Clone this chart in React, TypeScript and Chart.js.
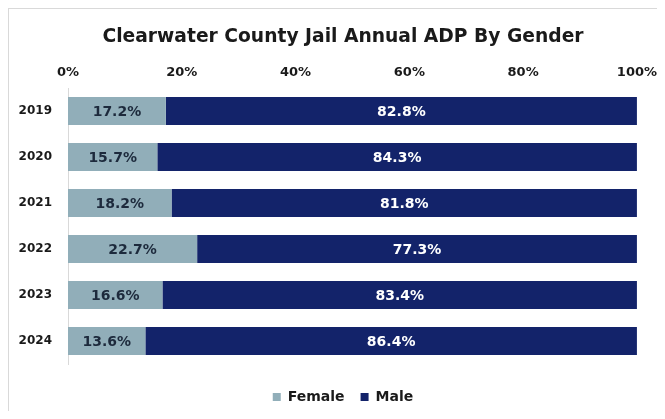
import React, { useEffect, useRef } from "react";
import { Chart, registerables } from "chart.js";

Chart.register(...registerables);

const years = ["2019", "2020", "2021", "2022", "2023", "2024"];
const femaleValues = [17.2, 15.7, 18.2, 22.7, 16.6, 13.6];
const maleValues = [82.8, 84.3, 81.8, 77.3, 83.4, 86.4];
const xTicks = [0, 20, 40, 60, 80, 100];

const FONT = "'DejaVu Sans', sans-serif";
const FEMALE_COLOR = "#91AEB9";
const MALE_COLOR = "#13236A";

const barLabels = {
  id: "barLabels",
  afterDatasetsDraw(chart: any) {
    const ctx = chart.ctx;
    ctx.save();
    ctx.font = `bold 14px ${FONT}`;
    ctx.textAlign = "center";
    ctx.textBaseline = "middle";
    chart.data.datasets.forEach((ds: any, di: number) => {
      const meta = chart.getDatasetMeta(di);
      meta.data.forEach((el: any, i: number) => {
        const v = ds.data[i];
        const cx = (el.x + el.base) / 2;
        ctx.fillStyle = di === 0 ? "#1d2a3c" : "#ffffff";
        ctx.fillText(v.toFixed(1) + "%", cx, el.y + 1);
      });
    });
    ctx.restore();
  },
};

export default function App() {
  const ref = useRef<HTMLCanvasElement>(null);
  useEffect(() => {
    const chart = new Chart(ref.current!, {
      type: "bar",
      data: {
        labels: years,
        datasets: [
          {
            label: "Female",
            data: femaleValues,
            backgroundColor: FEMALE_COLOR,
            barPercentage: 0.61,
            categoryPercentage: 1,
          },
          {
            label: "Male",
            data: maleValues,
            backgroundColor: MALE_COLOR,
            barPercentage: 0.61,
            categoryPercentage: 1,
          },
        ],
      },
      options: {
        indexAxis: "y",
        responsive: false,
        animation: false,
        layout: { padding: { left: 0, right: -12, top: 0, bottom: -3 } },
        scales: {
          x: {
            position: "top",
            stacked: true,
            min: 0,
            max: 100,
            afterBuildTicks(scale: any) {
              scale.ticks = xTicks.map((v) => ({ value: v }));
            },
            grid: { display: false, drawTicks: false },
            border: { display: false },
            ticks: {
              padding: 8,
              color: "#1a1a1a",
              font: { family: FONT, size: 13, weight: "bold" },
              callback: (v: any) => v + "%",
            },
          },
          y: {
            stacked: true,
            afterFit(scale: any) {
              scale.width = 59;
            },
            grid: { display: false, drawTicks: false },
            border: { display: true, color: "#d9d9d9" },
            ticks: {
              padding: 16,
              color: "#1a1a1a",
              font: { family: FONT, size: 12, weight: "bold" },
            },
          },
          yRight: {
            type: "category",
            axis: "y",
            position: "right",
            afterFit(scale: any) {
              scale.width = 39;
            },
            grid: { display: false, drawTicks: false },
            border: { display: false },
            ticks: { display: false },
          },
        },
        plugins: {
          title: {
            display: true,
            text: "Clearwater County Jail Annual ADP By Gender",
            color: "#1a1a1a",
            font: { family: FONT, size: 18.7, weight: "bold" },
            padding: { top: 17, bottom: 8 },
          },
          legend: {
            position: "bottom",
            title: {
              display: true,
              text: "",
              font: { family: FONT, size: 10, lineHeight: 1 },
              padding: 0,
            },
            labels: {
              boxWidth: 8,
              boxHeight: 8,
              padding: 16,
              color: "#1a1a1a",
              font: { family: FONT, size: 14, weight: "bold" },
            },
          },
          tooltip: { enabled: false },
        },
      },
      plugins: [barLabels],
    } as any);
    return () => chart.destroy();
  }, []);
  return (
    <div
      style={{
        width: 656,
        height: 402,
        borderLeft: "1px solid #d9d9d9",
        borderTop: "1px solid #d9d9d9",
        background: "#ffffff",
      }}
    >
      <canvas ref={ref} width={656} height={402} style={{ display: "block" }} />
    </div>
  );
}
